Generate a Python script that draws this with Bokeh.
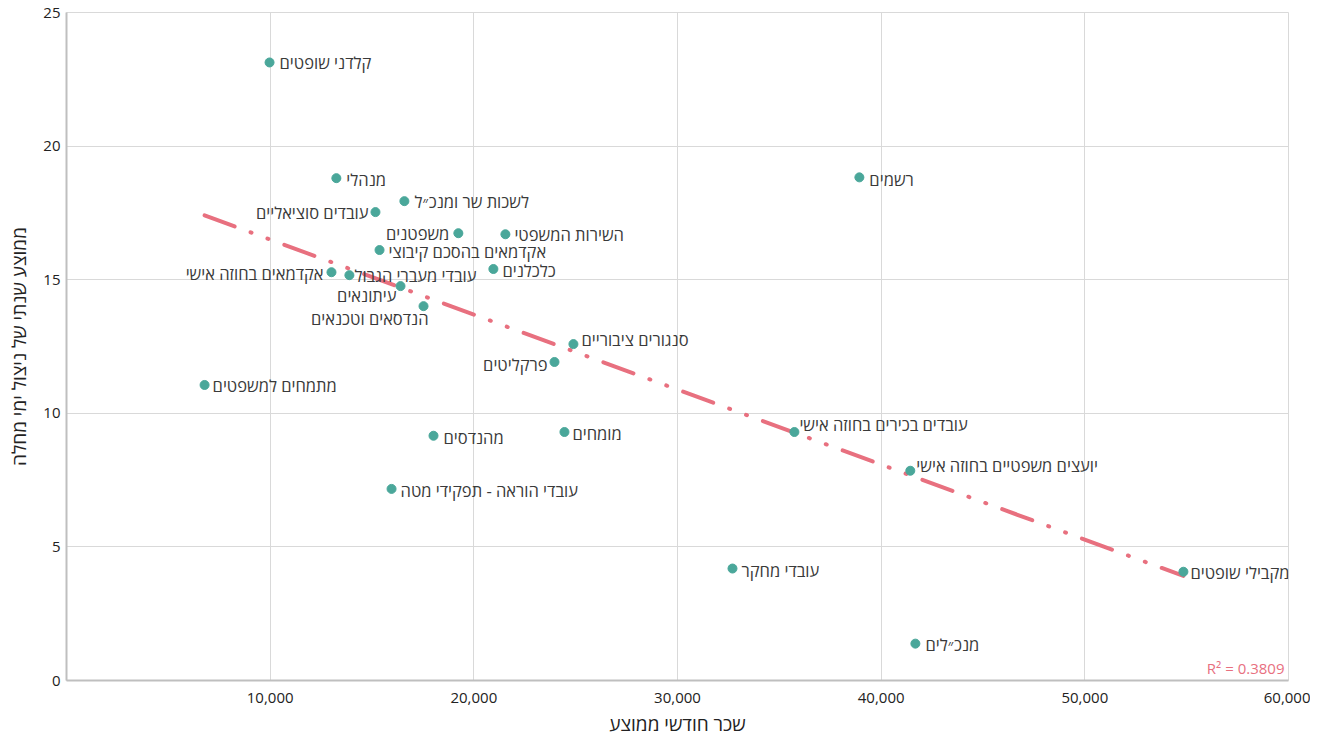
import numpy as np
from bokeh.plotting import figure
from bokeh.models import ColumnDataSource, FixedTicker, NumeralTickFormatter, Label
from bokeh.core.properties import value
from bokeh.embed import file_html
from bokeh.resources import INLINE

# ---- data ----
names = ["קלדני שופטים", "מנהלי", "לשכות שר ומנכ״ל", "עובדים סוציאליים", "משפטנים",
         "השירות המשפטי", "אקדמאים בהסכם קיבוצי", "כלכלנים", "אקדמאים בחוזה אישי",
         "עובדי מעברי הגבול", "עיתונאים", "הנדסאים וטכנאים", "סנגורים ציבוריים",
         "פרקליטים", "מתמחים למשפטים", "עובדים בכירים בחוזה אישי", "מומחים", "מהנדסים",
         "יועצים משפטיים בחוזה אישי", "עובדי הוראה - תפקידי מטה", "עובדי מחקר",
         "מקבילי שופטים", "רשמים", "מנכ״לים"]
salary = [9970, 13250, 16590, 15170, 19240, 21550, 15370, 20960, 13010, 13890, 16400,
          17530, 24890, 23960, 6780, 35740, 24450, 18020, 41430, 15960, 32700, 54840,
          38930, 41680]
sick_days = [23.13, 18.80, 17.94, 17.53, 16.74, 16.70, 16.11, 15.40, 15.28, 15.17, 14.76,
             14.01, 12.59, 11.92, 11.06, 9.30, 9.30, 9.16, 7.85, 7.17, 4.19, 4.07,
             18.83, 1.38]
x_ticks = [10000, 20000, 30000, 40000, 50000, 60000]
y_ticks = [0, 5, 10, 15, 20, 25]
r2_text = "R² = 0.3809"

# ---- label placement (layout only) ----
label_align = ["left", "left", "left", "right", "right", "left", "left", "left", "right",
               "left", "right", "right", "left", "right", "left", "left", "left", "left",
               "left", "left", "left", "left", "left", "left"]
label_dx = [10, 10, 10, -7, -9, 9, 9, 9, -8, 5, -4, 5, 8, -7, 8, 5, 8, 10, 6, 9, 9, 7, 10, 10]
label_dy = [0, 1, 0, 0, 0, 0, 1, 1, 1, 0, 9, 12, -5, 3, 1, -8, 1, 2, -5, 2, 2, 1, 2, 1]

TEAL = "#4AA79A"
PINK = "#E8707F"
FONT = "Open Sans"

p = figure(width=1310, height=739, output_backend="svg", toolbar_location=None,
           x_range=(0, 60000), y_range=(0, 25),
           min_border_left=66, min_border_right=22, min_border_top=12, min_border_bottom=58)
p.background_fill_color = "white"
p.border_fill_color = "white"
p.outline_line_color = "#D9D9D9"

# trendline (least squares on the data)
xs = np.array(salary, dtype=float)
ys = np.array(sick_days, dtype=float)
m, b = np.polyfit(xs, ys, 1)
tx = np.array([xs.min(), xs.max()])
p.line(tx, m * tx + b, line_color=PINK, line_width=4, line_dash="32 17 1 17 1 17",
       line_cap="round")

src = ColumnDataSource(dict(x=salary, y=sick_days, name=names, align=label_align,
                            dx=label_dx, dy=label_dy))
p.scatter("x", "y", source=src, size=9, fill_color=TEAL, line_color=TEAL)
p.text("x", "y", text="name", source=src, text_align="align", text_baseline="middle",
       x_offset="dx", y_offset="dy", text_font=value(FONT), text_font_size="16.5px",
       text_color="#3a3a3a")

p.add_layout(Label(x=60000, y=0, x_units="data", y_units="data", text=r2_text,
                   x_offset=-4, y_offset=3, text_align="right", text_baseline="bottom",
                   text_font=FONT, text_font_size="15px", text_color=PINK))

# axes
p.xaxis.ticker = FixedTicker(ticks=x_ticks)
p.yaxis.ticker = FixedTicker(ticks=y_ticks)
p.xaxis.formatter = NumeralTickFormatter(format="0,0")
for ax in (p.xaxis[0], p.yaxis[0]):
    ax.axis_line_color = "#BFBFBF"
    ax.axis_line_width = 2
    ax.major_tick_line_color = None
    ax.minor_tick_line_color = None
    ax.major_tick_out = 0
    ax.major_tick_in = 0
    ax.major_label_text_font = FONT
    ax.major_label_text_font_size = "15px"
    ax.major_label_text_color = "#222222"
    ax.axis_label_text_font = FONT
    ax.axis_label_text_font_size = "19px"
    ax.axis_label_text_font_style = "normal"
    ax.axis_label_text_color = "#222222"
p.xaxis.axis_label = "שכר חודשי ממוצע"
p.yaxis.axis_label = "ממוצע שנתי של ניצול ימי מחלה"
p.xaxis.major_label_standoff = 12
p.xaxis.axis_label_standoff = 5
p.yaxis.major_label_standoff = 6
p.yaxis.axis_label_standoff = 8
p.xgrid.ticker = FixedTicker(ticks=x_ticks)
p.ygrid.ticker = FixedTicker(ticks=y_ticks)
p.grid.grid_line_color = "#D9D9D9"
p.grid.grid_line_width = 1

open("out.html", "w").write(file_html(p, INLINE))
